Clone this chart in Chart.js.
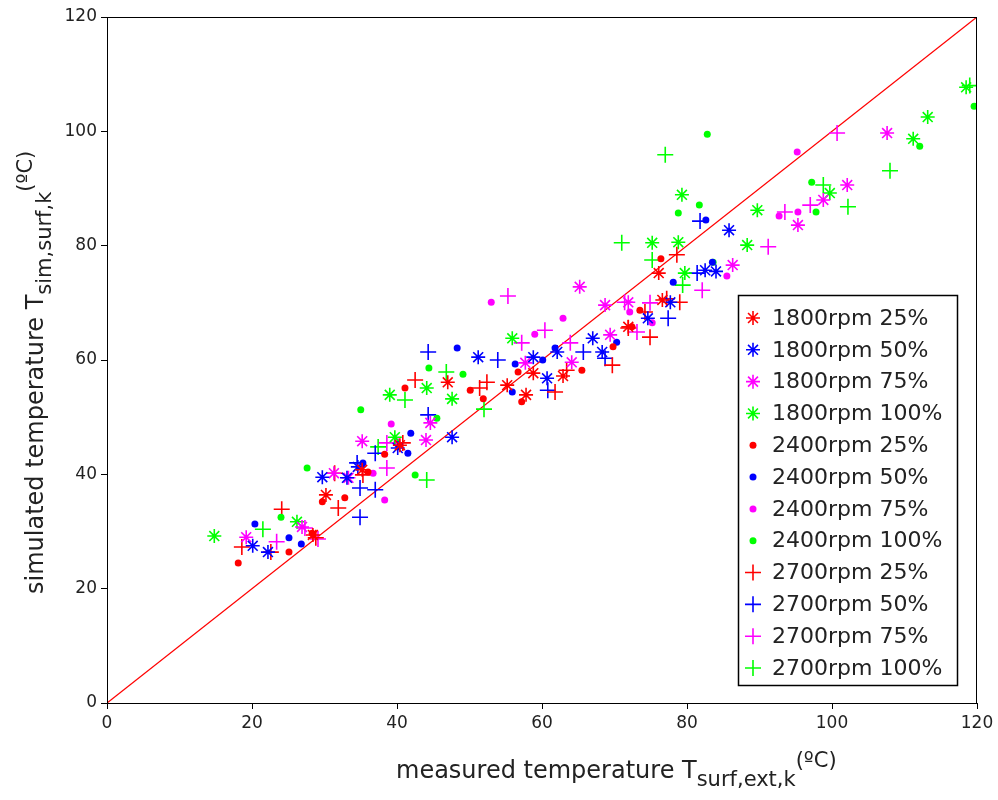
<!DOCTYPE html>
<html>
<head>
<meta charset="utf-8">
<script src="https://cdn.jsdelivr.net/npm/chart.js@4.4.1/dist/chart.umd.min.js"></script>
<style>
  body { margin: 0; background: #fff; }
  canvas { display: block; }
</style>
</head>
<body>
<canvas id="myChart" width="998" height="800"></canvas>
<script>
// --- data: [measured, simulated] ---
const r1800_25 = [[28.4,29.4],[30.2,36.4],[35.2,40.8],[40.4,45.1],[47,56.1],[55.2,55.6],[57.8,53.9],[58.8,57.7],[62.9,57.2],[71.9,65.8],[76.1,75.2],[76.6,70.5]];
const b1800_50 = [[20.1,27.5],[22.2,26.4],[29.7,39.5],[33.1,39.4],[34.6,41.3],[40.1,44.6],[47.6,46.5],[51.2,60.5],[58.8,60.5],[60.7,56.8],[62.1,61.4],[67,63.8],[68.3,61.4],[74.6,67.3],[77.7,70.1],[82.5,75.7],[84,75.5],[85.8,82.7]];
const m1800_75 = [[19.2,29],[26.9,30.8],[31.3,40.2],[33.3,39.4],[35.2,45.8],[44,46],[44.6,49],[57.7,59.5],[64.1,59.6],[65.2,72.8],[68.7,69.6],[69.4,64.4],[71.9,70.1],[86.3,76.6],[95.3,83.6],[98.8,88],[102.1,90.6],[107.6,99.7]];
const g1800_100 = [[14.8,29.2],[26.2,31.7],[39,53.9],[39.7,46.5],[44.1,55.1],[47.6,53.2],[55.9,63.8],[75.2,80.5],[78.8,80.6],[79.3,88.9],[79.7,75.2],[88.3,80.1],[89.7,86.2],[99.7,89.2],[111.2,98.7],[113.2,102.5],[118.5,107.7]];
const r2400_25 = [[18.1,24.5],[25.1,26.4],[28.3,29.7],[29.7,35.2],[32.8,35.9],[36,40.4],[38.3,43.5],[41.1,55.1],[50.1,54.7],[51.9,53.2],[56.7,57.9],[57.2,52.7],[65.5,58.2],[69.8,62.3],[72.4,65.8],[73.5,68.7],[76.4,77.7]];
const b2400_50 = [[20.4,31.3],[25.1,28.9],[26.8,27.8],[35.3,42],[41.5,43.7],[41.9,47.2],[48.3,62.1],[55.9,54.4],[56.3,59.3],[60.1,60],[61.8,62.1],[70.3,63.1],[78.1,73.6],[82.6,84.5],[83.5,77.1]];
const m2400_75 = [[36.7,40.2],[38.3,35.5],[39.2,48.8],[40,45.7],[53,70.1],[59,64.5],[62.9,67.3],[72.1,68.4],[75.2,66.5],[85.5,74.7],[92.7,85.2],[95.3,85.9],[95.2,96.4]];
const g2400_100 = [[24,32.5],[27.6,41.1],[35,51.3],[42.5,39.9],[44.4,58.6],[45.5,49.8],[49.1,57.5],[78.8,85.7],[81.7,87.1],[82.8,99.5],[83.6,77.1],[97.2,91.1],[97.8,85.9],[112.1,97.4],[119.6,104.4]];
const r2700_25 = [[18.6,27.3],[22.6,26.4],[24.1,33.9],[28.8,28.9],[31.4,40.2],[31.9,34.1],[35.3,39.9],[40.8,45.5],[42.5,56.5],[51.4,55.1],[52.4,56.1],[61.8,54.4],[63.4,58.2],[69.7,59.1],[71.9,65.6],[74.2,68.4],[74.9,64],[77.2,70.7],[79,70.1],[78.6,78.4]];
const b2700_50 = [[34.5,42],[34.9,37.6],[34.9,32.5],[37,37.3],[37,43.7],[44.3,61.4],[44.3,50.4],[53.9,60],[60.8,54.7],[65.7,61.4],[68.7,60.3],[77.4,67.3],[81.4,75.2],[81.8,84.3]];
const m2700_75 = [[23.4,28.2],[27.3,30.6],[29.1,28.7],[38.6,45.5],[38.6,41.1],[55.3,71.2],[57.2,63],[60.4,65.2],[63.9,63],[71.4,70.1],[73.1,64.9],[74.9,70],[82.1,72.2],[91.2,79.8],[93.5,85.9],[97,87.1],[100.7,99.7]];
const g2700_100 = [[21.5,30.4],[37.4,44.8],[41.1,53],[44.1,39],[46.8,57.9],[52,51.4],[71,80.5],[75.2,77.5],[77,95.9],[79.4,73.1],[98.8,90.6],[102.2,86.8],[108,93.1],[119,108]];

const seriesLabels = ['1800rpm 25%','1800rpm 50%','1800rpm 75%','1800rpm 100%',
                      '2400rpm 25%','2400rpm 50%','2400rpm 75%','2400rpm 100%',
                      '2700rpm 25%','2700rpm 50%','2700rpm 75%','2700rpm 100%'];
const seriesData = [r1800_25, b1800_50, m1800_75, g1800_100,
                    r2400_25, b2400_50, m2400_75, g2400_100,
                    r2700_25, b2700_50, m2700_75, g2700_100];
const refLine = [[0,0],[120,120]];
const axisTicks = [0, 20, 40, 60, 80, 100, 120];

const colors = ['#ff0000', '#0000ff', '#ff00ff', '#00ff00'];
const FONT = '"DejaVu Sans", sans-serif';

function markerFor(i) {
    const group = Math.floor(i / 4);
    if (group === 0) return { pointStyle: 'star', radius: 7 };
    if (group === 1) return { pointStyle: 'circle', radius: 3.5 };
    return { pointStyle: 'cross', radius: 8 };
}

const datasets = seriesData.map((pts, i) => {
    const c = colors[i % 4];
    const m = markerFor(i);
    return {
        label: seriesLabels[i],
        data: pts.map(p => ({ x: p[0], y: p[1] })),
        borderColor: c,
        backgroundColor: c,
        pointStyle: m.pointStyle,
        pointRadius: m.radius,
        pointBorderWidth: m.pointStyle === 'circle' ? 0 : 1.6,
        showLine: false
    };
});

datasets.push({
    label: 'y=x',
    data: refLine.map(p => ({ x: p[0], y: p[1] })),
    showLine: true,
    borderColor: '#ff0000',
    borderWidth: 1.3,
    pointRadius: 0,
    fill: false
});

// --- titles with sub/superscripts, frame and legend box ---
function drawParts(ctx, parts) {
    let x = 0;
    parts.forEach(p => {
        ctx.font = p.s + 'px ' + FONT;
        ctx.fillText(p.t, x, p.dy);
        x += ctx.measureText(p.t).width;
    });
}

const decorPlugin = {
    id: 'decor',
    afterDraw(chart) {
        const ctx = chart.ctx;
        const a = chart.chartArea;
        ctx.save();
        // frame
        ctx.strokeStyle = '#000';
        ctx.lineWidth = 1;
        ctx.strokeRect(Math.round(a.left) + 0.5, Math.round(a.top) + 0.5,
                       Math.round(a.right - a.left) - 1, Math.round(a.bottom - a.top));

        // axis titles
        ctx.fillStyle = '#222';
        ctx.textBaseline = 'alphabetic';
        ctx.textAlign = 'left';
        ctx.save();
        ctx.translate(396, 778);
        drawParts(ctx, [
            { t: 'measured temperature T', s: 24, dy: 0 },
            { t: 'surf,ext,k', s: 21, dy: 8 },
            { t: '(ºC)', s: 21, dy: -11 }
        ]);
        ctx.restore();
        ctx.save();
        ctx.translate(43, 594);
        ctx.rotate(-Math.PI / 2);
        drawParts(ctx, [
            { t: 'simulated temperature T', s: 24, dy: 0 },
            { t: 'sim,surf,k', s: 21, dy: 8 },
            { t: '(ºC)', s: 21, dy: -11 }
        ]);
        ctx.restore();

        // legend
        const lx = 738, ly = 295, lw = 219, lh = 390;
        ctx.fillStyle = '#fff';
        ctx.fillRect(lx, ly, lw, lh);
        ctx.strokeStyle = '#000';
        ctx.lineWidth = 1.5;
        ctx.strokeRect(lx + 0.5, ly + 0.5, lw, lh);
        ctx.font = '22px ' + FONT;
        ctx.textBaseline = 'middle';
        const step = (668 - 318) / 11;
        seriesLabels.forEach((lab, i) => {
            const ds = chart.data.datasets[i];
            const y = 318 + i * step;
            ctx.strokeStyle = ds.borderColor;
            ctx.fillStyle = ds.backgroundColor;
            ctx.lineWidth = ds.pointBorderWidth || 1;
            Chart.helpers.drawPoint(ctx, {
                pointStyle: ds.pointStyle,
                radius: ds.pointRadius,
                rotation: 0,
                borderWidth: ds.pointBorderWidth
            }, 753, y);
            ctx.fillStyle = '#222';
            ctx.fillText(lab, 772, y + 1);
        });
        ctx.restore();
    }
};

const tickFont = { family: FONT, size: 17 };

new Chart(document.getElementById('myChart').getContext('2d'), {
    type: 'scatter',
    data: { datasets: datasets },
    options: {
        responsive: false,
        animation: false,
        layout: { padding: { left: 0, top: 17, right: 21, bottom: 0 } },
        plugins: { legend: { display: false }, tooltip: { enabled: false } },
        scales: {
            x: {
                type: 'linear', min: 0, max: 120,
                afterBuildTicks(s) { s.ticks = axisTicks.map(v => ({ value: v })); },
                ticks: { color: '#222', font: tickFont, padding: 4 },
                grid: { drawOnChartArea: false, drawTicks: true, tickLength: 6, color: '#000' },
                border: { display: true, color: '#000', width: 1 },
                afterFit(s) { s.height = 97; }
            },
            y: {
                type: 'linear', min: 0, max: 120,
                afterBuildTicks(s) { s.ticks = axisTicks.map(v => ({ value: v })); },
                ticks: { color: '#222', font: tickFont, padding: 4 },
                grid: { drawOnChartArea: false, drawTicks: true, tickLength: 6, color: '#000' },
                border: { display: true, color: '#000', width: 1 },
                afterFit(s) { s.width = 107; }
            }
        }
    },
    plugins: [decorPlugin]
});
</script>
</body>
</html>
